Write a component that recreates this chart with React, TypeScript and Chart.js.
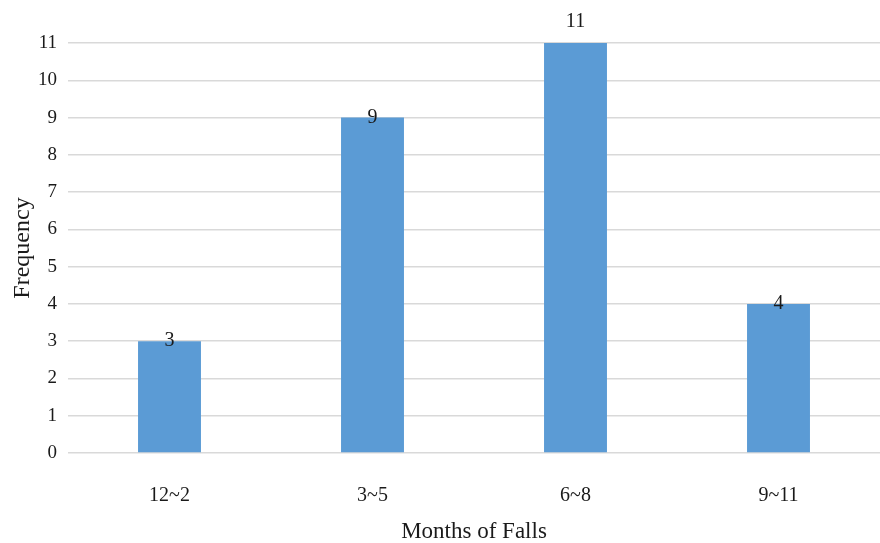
import React, { useEffect, useRef } from "react";
import { Chart, registerables } from "chart.js";

Chart.register(...registerables);

const categories = ["12~2", "3~5", "6~8", "9~11"];
const frequencies = [3, 9, 11, 4];
const yTicks = [0, 1, 2, 3, 4, 5, 6, 7, 8, 9, 10, 11];

const FONT = "'Liberation Serif', 'Times New Roman', serif";

const labelPlugin = {
  id: "barLabels",
  afterDatasetsDraw(chart: any) {
    const ctx = chart.ctx;
    const meta = chart.getDatasetMeta(0);
    const yScale = chart.scales.y;
    ctx.save();
    ctx.font = `20px ${FONT}`;
    ctx.fillStyle = "#1a1a1a";
    ctx.textAlign = "center";
    ctx.textBaseline = "alphabetic";
    meta.data.forEach((bar: any, i: number) => {
      const v = frequencies[i];
      const y = v >= yScale.max ? bar.y - 16 : bar.y + 5;
      ctx.fillText(String(v), bar.x, y);
    });
    ctx.restore();
  },
};

export default function App() {
  const ref = useRef<HTMLCanvasElement | null>(null);
  useEffect(() => {
    if (!ref.current) return;
    const chart = new Chart(ref.current, {
      type: "bar",
      data: {
        labels: categories,
        datasets: [
          {
            data: frequencies,
            backgroundColor: "#5b9bd5",
            borderWidth: 0,
            barPercentage: 0.31,
            categoryPercentage: 1,
          },
        ],
      },
      plugins: [labelPlugin],
      options: {
        animation: false,
        responsive: false,
        maintainAspectRatio: false,
        layout: { padding: { top: 43, right: 0, left: 0, bottom: 0 } },
        plugins: { legend: { display: false }, tooltip: { enabled: false } },
        scales: {
          x: {
            grid: { display: false },
            border: { display: false },
            ticks: {
              color: "#1a1a1a",
              font: { family: FONT, size: 20 },
              padding: 23,
            },
            title: {
              display: true,
              text: "Months of Falls",
              color: "#1a1a1a",
              font: { family: FONT, size: 23 },
              padding: { top: 0, bottom: -3 },
            },
            afterFit(scale: any) {
              scale.height = 90;
            },
          },
          y: {
            min: 0,
            max: 11,
            afterBuildTicks(scale: any) {
              scale.ticks = yTicks.map((v) => ({ value: v }));
            },
            grid: {
              color: "#d9d9d9",
              lineWidth: 1.5,
              drawTicks: false,
            },
            border: { display: false },
            ticks: {
              color: "#1a1a1a",
              font: { family: FONT, size: 19 },
              padding: 11,
            },
            title: {
              display: true,
              text: "Frequency",
              color: "#1a1a1a",
              font: { family: FONT, size: 24 },
              padding: { top: 8, bottom: 0 },
            },
            afterFit(scale: any) {
              scale.width = 68;
            },
          },
        },
      },
    });
    return () => chart.destroy();
  }, []);
  return (
    <div style={{ position: "absolute", left: 0, top: 0, width: 880, height: 543, background: "#fff" }}>
      <canvas ref={ref} width={880} height={543} style={{ width: 880, height: 543 }} />
    </div>
  );
}
